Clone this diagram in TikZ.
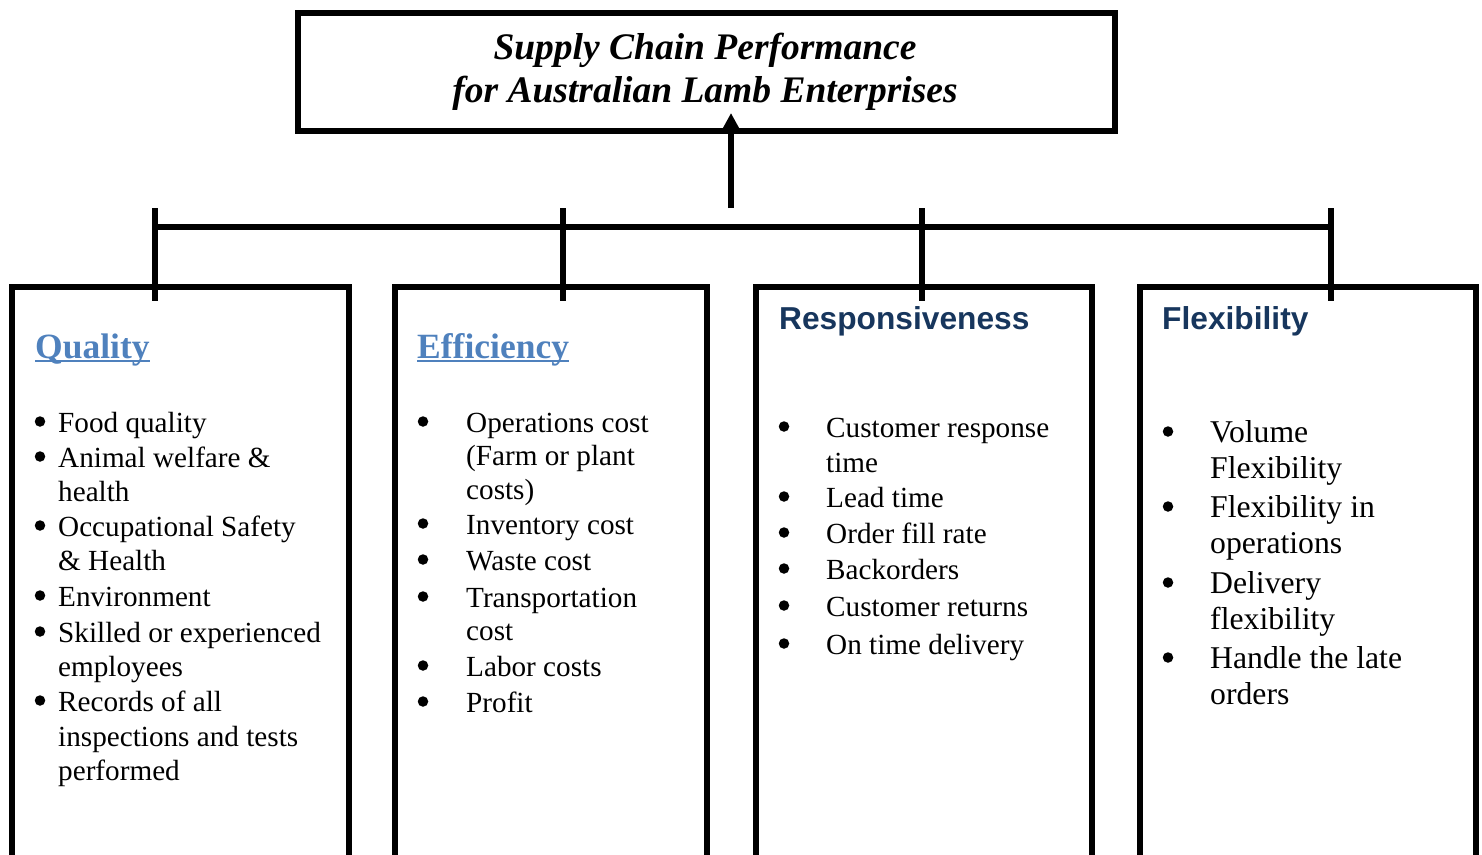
\documentclass[tikz,border=0pt]{standalone}
\usepackage{fontspec}
\setmainfont{Liberation Serif}
\newfontfamily\headsans{Liberation Sans}
\usetikzlibrary{arrows.meta,calc}
\definecolor{qblue}{HTML}{4F81BD}
\definecolor{navyhead}{HTML}{17365D}
\begin{document}
\begin{tikzpicture}[x=1pt,y=-1pt,
  frame/.style={draw,line width=6pt,inner sep=0pt},
  conn/.style={line width=6pt},
  ttl/.style={anchor=base,inner sep=0pt,font=\fontsize{37.5}{43}\selectfont\bfseries\itshape},
  shead/.style={anchor=base west,inner sep=0pt,text=qblue,font=\fontsize{35.5}{40}\selectfont\bfseries},
  ahead/.style={anchor=base west,inner sep=0pt,text=navyhead,font=\headsans\fontsize{31.7}{36}\selectfont\bfseries},
  itm/.style={anchor=base west,inner sep=0pt,font=\fontsize{29.2}{34}\selectfont},
  bul/.style={circle,fill,inner sep=0pt,minimum size=10.5pt,yshift=10.5pt},
  itmb/.style={anchor=base west,inner sep=0pt,font=\fontsize{31.7}{37}\selectfont},
  bulb/.style={circle,fill,inner sep=0pt,minimum size=10.5pt,yshift=10.5pt}]
\useasboundingbox (0,0) rectangle (1482,854);
\clip (0,0) rectangle (1482,854);

% title
\node[frame,minimum width=817pt,minimum height=118pt] (title) at (706,72) {};
\node[ttl] (t1) at (705,59) {Supply Chain Performance};
\node[ttl] (t2) at (705,102) {for Australian Lamb Enterprises};

% boxes (open at the bottom of the page)
\node[frame,minimum width=337pt,minimum height=613pt] (b1) at (180,593.5) {};
\node[frame,minimum width=311.5pt,minimum height=613pt] (b2) at (550.75,593.5) {};
\node[frame,minimum width=335.5pt,minimum height=613pt] (b3) at (923.75,593.5) {};
\node[frame,minimum width=336.25pt,minimum height=613pt] (b4) at (1307.9,593.5) {};

% connectors
\coordinate (hub) at (731,208);
\coordinate (tip) at (731,113);
\draw[conn,-{Triangle[length=17pt,width=17pt]}] (hub) -- (tip);
\coordinate (bl) at (155,227);
\coordinate (br) at (1331,227);
\draw[conn] (bl) -- (br);
\coordinate (k1) at (155,208);
\coordinate (k2) at (563,208);
\coordinate (k3) at (922,208);
\coordinate (k4) at (1331,208);
\draw[conn] (k1) -- ($(b1.north -| k1)+(0,17)$);
\draw[conn] (k2) -- ($(b2.north -| k2)+(0,17)$);
\draw[conn] (k3) -- ($(b3.north -| k3)+(0,17)$);
\draw[conn] (k4) -- ($(b4.north -| k4)+(0,17)$);

% headings
\node[shead] (h1) at (35,358) {Quality};
\draw[qblue,line width=2.5pt] ([yshift=-3pt]h1.base west) -- ([yshift=-3pt]h1.base east);
\node[shead] (h2) at (417,358) {Efficiency};
\draw[qblue,line width=2.5pt] ([yshift=-3pt]h2.base west) -- ([yshift=-3pt]h2.base east);
\node[ahead] (h3) at (779,329) {Responsiveness};
\node[ahead] (h4) at (1162,329) {Flexibility};

% box 1 items
\node[bul] (p1a) at (40,432) {};
\node[itm] (l1a) at (58,432) {Food quality};
\node[bul] (p1b) at (40,467) {};
\node[itm] (l1b) at (58,467) {Animal welfare \&};
\node[itm] (l1c) at (58,501) {health};
\node[bul] (p1d) at (40,536) {};
\node[itm] (l1d) at (58,536) {Occupational Safety};
\node[itm] (l1e) at (58,570) {\& Health};
\node[bul] (p1f) at (40,606) {};
\node[itm] (l1f) at (58,606) {Environment};
\node[bul] (p1g) at (40,642) {};
\node[itm] (l1g) at (58,642) {Skilled or experienced};
\node[itm] (l1h) at (58,676) {employees};
\node[bul] (p1i) at (40,711) {};
\node[itm] (l1i) at (58,711) {Records of all};
\node[itm] (l1j) at (58,746) {inspections and tests};
\node[itm] (l1k) at (58,780) {performed};

% box 2 items
\node[bul] (p2a) at (423,432) {};
\node[itm] (l2a) at (466,432) {Operations cost};
\node[itm] (l2b) at (466,465) {(Farm or plant};
\node[itm] (l2c) at (466,499) {costs)};
\node[bul] (p2d) at (423,534) {};
\node[itm] (l2d) at (466,534) {Inventory cost};
\node[bul] (p2e) at (423,570) {};
\node[itm] (l2e) at (466,570) {Waste cost};
\node[bul] (p2f) at (423,607) {};
\node[itm] (l2f) at (466,607) {Transportation};
\node[itm] (l2g) at (466,640) {cost};
\node[bul] (p2h) at (423,676) {};
\node[itm] (l2h) at (466,676) {Labor costs};
\node[bul] (p2i) at (423,712) {};
\node[itm] (l2i) at (466,712) {Profit};

% box 3 items
\node[bul] (p3a) at (784,437) {};
\node[itm] (l3a) at (826,437) {Customer response};
\node[itm] (l3b) at (826,472) {time};
\node[bul] (p3c) at (784,507) {};
\node[itm] (l3c) at (826,507) {Lead time};
\node[bul] (p3d) at (784,543) {};
\node[itm] (l3d) at (826,543) {Order fill rate};
\node[bul] (p3e) at (784,579) {};
\node[itm] (l3e) at (826,579) {Backorders};
\node[bul] (p3f) at (784,616) {};
\node[itm] (l3f) at (826,616) {Customer returns};
\node[bul] (p3g) at (784,654) {};
\node[itm] (l3g) at (826,654) {On time delivery};

% box 4 items
\node[bulb] (p4a) at (1168,442) {};
\node[itmb] (l4a) at (1210,442) {Volume};
\node[itmb] (l4b) at (1210,478) {Flexibility};
\node[bulb] (p4c) at (1168,517) {};
\node[itmb] (l4c) at (1210,517) {Flexibility in};
\node[itmb] (l4d) at (1210,553) {operations};
\node[bulb] (p4e) at (1168,593) {};
\node[itmb] (l4e) at (1210,593) {Delivery};
\node[itmb] (l4f) at (1210,629) {flexibility};
\node[bulb] (p4g) at (1168,668) {};
\node[itmb] (l4g) at (1210,668) {Handle the late};
\node[itmb] (l4h) at (1210,704) {orders};
\end{tikzpicture}
\end{document}
